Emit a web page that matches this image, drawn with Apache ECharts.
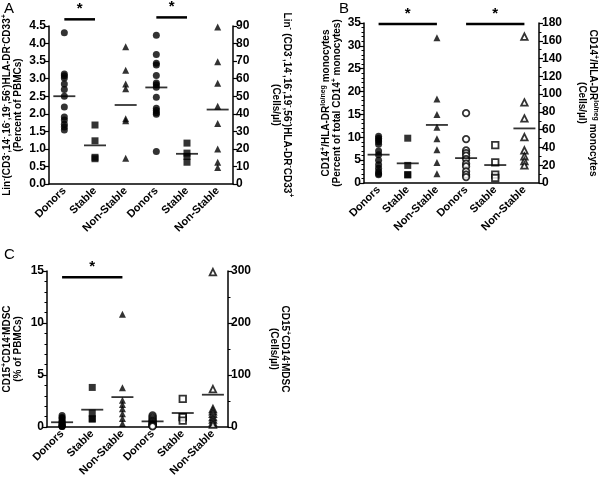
<!DOCTYPE html>
<html><head><meta charset="utf-8">
<script src="https://cdn.jsdelivr.net/npm/echarts@6/dist/echarts.min.js"></script>
<style>html,body{margin:0;padding:0;background:#fff}#c{width:600px;height:479px}</style>
</head><body><div id="c"></div>
<script>
// ---- categories ----
const categories = ['Donors', 'Stable', 'Non-Stable', 'Donors', 'Stable', 'Non-Stable'];

// ---- Panel A: Lin- HLA-DR- CD33+ ----
const aDonorsPct = [4.31, 3.13, 3.08, 3.02, 2.85, 2.69, 2.5, 2.19, 1.91, 1.82, 1.70, 1.62, 1.54];
const aStablePct = [1.68, 1.23, 0.72, 0.76];
const aNonStablePct = [3.91, 3.24, 2.85, 2.71, 1.86, 1.80, 0.73];
const aDonorsCells = [84.7, 73.8, 68.8, 67.8, 61.8, 57.5, 56.6, 55.1, 49.4, 43.1, 41.9, 40.6, 39.7, 18.5];
const aStableCells = [23.3, 17.6, 15.7, 12.4];
const aNonStableCells = [89.5, 69.6, 57.4, 44.3, 34.4, 20.0, 12.4, 9.4];
const aMeans = [2.5, 1.1, 2.25, 55, 17.2, 42.4];

// ---- Panel B: CD14+/HLA-DR lo/neg monocytes ----
const bDonorsPct = [10.2, 9.8, 9.4, 9.0, 8.5, 7.0, 6.2, 5.0, 4.0, 3.2, 2.5, 2.0, 1.8];
const bStablePct = [9.8, 3.85, 1.8, 1.8];
const bNonStablePct = [31.8, 18.4, 15.0, 12.2, 9.7, 7.3, 4.5, 2.0];
const bDonorsCells = [78.6, 49.4, 36.7, 33.7, 30.7, 26.9, 21.7, 18.7, 13.1, 9.4, 6.7];
const bStableCells = [42.7, 23.2, 9.4, 5.6];
const bNonStableCells = [164.7, 90.6, 72.6, 51.6, 36.7, 29.9, 24.7, 19.8];
const bMeans = [6.2, 4.3, 12.7, 28, 20.2, 61.4];

// ---- Panel C: CD15+CD14- MDSC ----
const cDonorsPct = [1.1, 0.9, 0.8, 0.6, 0.5, 0.4, 0.3, 0.2, 0.15, 0.1, 0.05, 0.05];
const cStablePct = [3.8, 1.34, 0.77, 0.77];
const cNonStablePct = [10.85, 3.77, 2.56, 2.17, 1.76, 1.28, 0.80, 0.32];
const cDonorsCells = [22, 19, 16, 13, 11, 9, 7, 5, 4, 3, 2, 1];
const cStableCells = [54, 19, 19, 12];
const cNonStableCells = [298, 72.8, 34.5, 30, 25, 19, 14, 9, 4.4];
const cMeans = [0.45, 1.66, 2.87, 10.7, 26.8, 62];

// ---- significance bars: [fromCategory, toCategory, value on axis, which axis (0 left / 1 right)] ----
const aSig = [[0, 1, 4.69, 0], [3, 4, 94.9, 1]];
const bSig = [[0, 2, 34.8, 0], [3, 5, 179, 1]];
const cSig = [[0, 2, 14.4, 0]];

const FONT = '"Liberation Sans", Arial, sans-serif';
const chart = echarts.init(document.getElementById('c'), null, {renderer: 'canvas'});

const grids = [
  {left: 48, top: 26, width: 185, height: 158},
  {left: 364, top: 23, width: 186, height: 160},
  {left: 46, top: 271, width: 182, height: 156}
];

const rich = {
  n: {fontSize: 10, fontWeight: 'bold', fontFamily: FONT, color: '#000', lineHeight: 11, verticalAlign: 'bottom'},
  s: {fontSize: 7, fontWeight: 'bold', fontFamily: FONT, color: '#000', lineHeight: 11, verticalAlign: 'top'}
};

function yAxis(grid, pos, min, max, interval, minorSplit, name, gap, fmt) {
  return {
    type: 'value', gridIndex: grid, position: pos, min: min, max: max, interval: interval,
    axisLine: {show: true, lineStyle: {color: '#000', width: 1.5}},
    axisTick: {show: true, length: 4, lineStyle: {color: '#000', width: 1.2}},
    minorTick: {show: minorSplit > 0, splitNumber: minorSplit || 5, length: 2.5, lineStyle: {color: '#000', width: 1}},
    axisLabel: {fontSize: 12, fontWeight: 'bold', color: '#000', fontFamily: FONT, margin: 3, formatter: fmt},
    splitLine: {show: false},
    name: name, nameLocation: 'middle', nameGap: gap, nameRotate: pos === 'left' ? 90 : -90,
    nameTextStyle: {rich: rich, fontFamily: FONT}
  };
}

const linName = '{n|Lin}{s|-}{n|(CD3}{s|-}{n|,14}{s|-}{n|,16}{s|-}{n|,19}{s|-}{n|,56}{s|-}{n|)HLA-DR}{s|-}{n|CD33}{s|+}';
const yAxes = [
  yAxis(0, 'left', 0, 4.5, 0.5, 0, linName + '\n{n|(Percent of PBMCs)}', 26, v => v.toFixed(1)),
  yAxis(0, 'right', 0, 90, 10, 0, '{n|Lin}{s|-} {n|(CD3}{s|-}{n|,14}{s|-}{n|,16}{s|-}{n|,19}{s|-}{n|,56}{s|-}{n|)HLA-DR}{s|-}{n|CD33}{s|+}\n{n|(Cells/µl)}', 38),
  yAxis(1, 'left', 0, 35, 5, 5, '{n|CD14}{s|+}{n|/HLA-DR}{s|lo/neg}{n| monocytes}\n{n|(Percent of total CD14}{s|+}{n| monocytes)}', 22),
  yAxis(1, 'right', 0, 180, 20, 2, '{n|CD14}{s|+}{n|/HLA-DR}{s|lo/neg}{n| monocytes}\n{n|(Cells/µl)}', 38),
  yAxis(2, 'left', 0, 15, 5, 5, '{n|CD15}{s|+}{n|CD14}{s|-}{n|MDSC}\n{n|(% of PBMCs)}', 24),
  yAxis(2, 'right', 0, 300, 100, 2, '{n|CD15}{s|+}{n|CD14}{s|-}{n|MDSC}\n{n|(Cells/µl)}', 41)
];

const xAxes = grids.map((g, i) => ({
  type: 'category', gridIndex: i, data: categories, boundaryGap: true,
  axisLine: {show: true, lineStyle: {color: '#000', width: 1.5}},
  axisTick: {show: false},
  axisLabel: {rotate: 45, margin: 5, interval: 0, fontSize: 11, fontWeight: 'bold', color: '#000', fontFamily: FONT},
  splitLine: {show: false}
}));

const shapes = {
  circle: {symbol: 'circle', size: 7},
  rect: {symbol: 'rect', size: 7},
  triangle: {symbol: 'triangle', size: 7}
};

function pts(arr, idx) { return arr.map(v => [idx, v]); }

function makeSeries(p, arrays, means, openRight) {
  const out = [];
  const shapeList = ['circle', 'rect', 'triangle', 'circle', 'rect', 'triangle'];
  arrays.forEach((arr, k) => {
    const open = openRight && k >= 3;
    const sh = shapes[shapeList[k]];
    out.push({
      type: 'scatter', xAxisIndex: p, yAxisIndex: p * 2 + (k >= 3 ? 1 : 0),
      symbol: sh.symbol, symbolSize: open ? sh.size - 0.5 : sh.size,
      itemStyle: open ? {color: '#fff', borderColor: '#000', borderWidth: 1.8} : {color: '#000'},
      data: pts(arr, k), silent: true, animation: false, z: 3
    });
  });
  means.forEach((m, k) => {
    out.push({
      type: 'scatter', xAxisIndex: p, yAxisIndex: p * 2 + (k >= 3 ? 1 : 0),
      symbol: 'rect', symbolSize: [22, 1.8], itemStyle: {color: '#000'},
      data: [[k, m]], silent: true, animation: false, z: 4
    });
  });
  return out;
}

const series = [].concat(
  makeSeries(0, [aDonorsPct, aStablePct, aNonStablePct, aDonorsCells, aStableCells, aNonStableCells], aMeans, false),
  makeSeries(1, [bDonorsPct, bStablePct, bNonStablePct, bDonorsCells, bStableCells, bNonStableCells], bMeans, true),
  makeSeries(2, [cDonorsPct, cStablePct, cNonStablePct, cDonorsCells, cStableCells, cNonStableCells], cMeans, true)
);

chart.setOption({
  animation: false,
  backgroundColor: '#fff',
  grid: grids.map(g => Object.assign({containLabel: false}, g)),
  xAxis: xAxes,
  yAxis: yAxes,
  series: series
});

// significance bars + panel letters
const graphics = [
  {type: 'text', left: 4, top: 1, style: {text: 'A', font: '15px ' + FONT, fill: '#000'}},
  {type: 'text', left: 339, top: 1, style: {text: 'B', font: '15px ' + FONT, fill: '#000'}},
  {type: 'text', left: 4, top: 247, style: {text: 'C', font: '15px ' + FONT, fill: '#000'}}
];
[[aSig, 0], [bSig, 1], [cSig, 2]].forEach(([sigs, p]) => {
  sigs.forEach(s => {
    const finder = {xAxisIndex: p, yAxisIndex: p * 2 + s[3]};
    const a = chart.convertToPixel(finder, [s[0], s[2]]);
    const b = chart.convertToPixel(finder, [s[1], s[2]]);
    graphics.push({type: 'line', shape: {x1: a[0], y1: a[1], x2: b[0], y2: b[1]}, style: {stroke: '#000', lineWidth: 2.5}, z: 10});
    graphics.push({type: 'text', x: (a[0] + b[0]) / 2, y: a[1] - 3,
      style: {text: '*', font: 'bold 15px ' + FONT, fill: '#000', textAlign: 'center', textVerticalAlign: 'bottom'}, z: 10});
  });
});
chart.setOption({graphic: graphics});
</script>
</body></html>
